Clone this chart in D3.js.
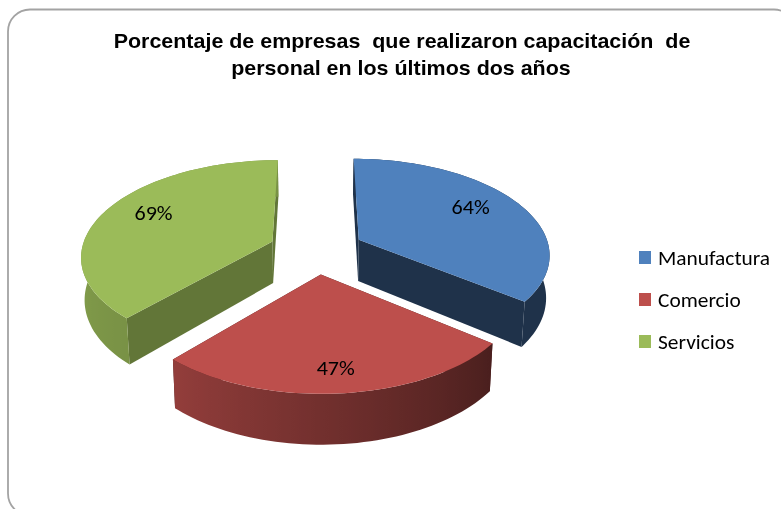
<!DOCTYPE html>
<html><head><meta charset="utf-8">
<script src="https://cdn.jsdelivr.net/npm/d3@7/dist/d3.min.js"></script>
<style>html,body{margin:0;padding:0;background:#fff;overflow:hidden}svg{display:block;filter:blur(0.35px)}</style>
</head><body><svg id="c" width="781" height="509"></svg>
<script>
const categories = ["Manufactura", "Comercio", "Servicios"];
const values = [64, 47, 69];
const valueLabels = ["64%", "47%", "69%"];
const topColors = ["#4f81bd", "#bd4f4c", "#9bbb59"];
const radialShade = [0.39, 0.39, 0.63];
const labelRadius = [0.72, 0.83, 0.72];
const labelDx = [-3, -2, 2];
const labelDy = [2, 5, 1];
const titleLines = ["Porcentaje de empresas  que realizaron capacitación  de", "personal en los últimos dos años"];

const svg = d3.select("#c");
svg.append("rect").attr("x",8).attr("y",9.5).attr("width",788).attr("height",506).attr("rx",22).attr("ry",22)
  .attr("fill","#fff").attr("stroke","#a3a3a3").attr("stroke-width",1.8);

const explode = 0.25, persp = 0.14, depth = 42, shrink = 0.985;
const sx = d3.scaleLinear().domain([-1,1]).range([316.5-191, 316.5+191]);
const sy = d3.scaleLinear().domain([-1,1]).range([250-95, 250+95]);
const cx = sx(0);
function project(X,Y,bottom){
  const w = 1 - persp*Y;
  const px = sx(X/w), py = sy(Y/w);
  if(!bottom) return [px,py];
  return [cx + (px-cx)*shrink, py + depth/w];
}
const pie = d3.pie().sort(null).value(d=>d);
const slices = pie(values);
const shade = d3.scaleLinear().domain([90,128,222,300].map(d=>d*Math.PI/180)).range([0.39,0.39,0.78,0.9]).clamp(true);
const line = d3.line();
function darken(c,f){const r=d3.rgb(c);return d3.rgb(r.r*f,r.g*f,r.b*f).formatHex();}
const defs = svg.append("defs");

slices.forEach((s,i)=>{
  const mid=(s.startAngle+s.endAngle)/2;
  const ox=explode*Math.sin(mid), oy=-explode*Math.cos(mid);
  const pt=(a,r)=>[ox+r*Math.sin(a), oy-r*Math.cos(a)];
  const g=svg.append("g");
  const arcAngles=d3.range(s.startAngle,s.endAngle,0.03).concat([s.endAngle]);
  const apexT=project(ox,oy,false), apexB=project(ox,oy,true);
  [s.startAngle,s.endAngle].forEach(a=>{
    const [X,Y]=pt(a,1);
    g.append("path").attr("d",line([apexT,project(X,Y,false),project(X,Y,true),apexB])+"Z")
      .attr("fill",darken(topColors[i],radialShade[i]));
  });
  const topArc=arcAngles.map(a=>{const [X,Y]=pt(a,1);return project(X,Y,false);});
  const botArc=arcAngles.map(a=>{const [X,Y]=pt(a,1);return project(X,Y,true);});
  const near=arcAngles.filter(a=>Math.cos(a)<=0.02);
  const xs=near.map(a=>{const [X,Y]=pt(a,1);return project(X,Y,false)[0];});
  const x0=d3.min(xs), x1=d3.max(xs);
  const grad=defs.append("linearGradient").attr("id","wall"+i).attr("gradientUnits","userSpaceOnUse")
    .attr("x1",x0).attr("x2",x1).attr("y1",0).attr("y2",0);
  near.map((a,k)=>({o:(xs[k]-x0)/(x1-x0),a})).sort((p,q)=>p.o-q.o).forEach(p=>{
    grad.append("stop").attr("offset",p.o).attr("stop-color",darken(topColors[i],shade(p.a)));
  });
  g.append("path").attr("d",line(topArc.concat(botArc.slice().reverse()))+"Z").attr("fill","url(#wall"+i+")");
  g.append("path").attr("d",line([apexT].concat(topArc))+"Z").attr("fill",topColors[i]);
  const [lx,ly]=pt(mid,labelRadius[i]);
  const [tx,ty]=project(lx,ly,false);
  g.append("text").attr("transform",`translate(${tx+labelDx[i]},${ty+labelDy[i]}) scale(1.05,1)`).attr("text-anchor","middle")
    .attr("font-family","Carlito, Lato, sans-serif").attr("font-size",21).attr("fill","#000").text(valueLabels[i]);
});

svg.selectAll("text.title").data(titleLines).join("text").attr("class","title")
  .attr("transform",(d,i)=>`translate(${402-i},${48+i*27}) scale(1.10,1)`).attr("text-anchor","middle")
  .style("white-space","pre")
  .attr("font-family","'Liberation Sans', Arial, sans-serif").attr("font-weight","bold").attr("font-size",19.5).attr("fill","#000").text(d=>d);

const legendY=d3.scalePoint().domain(categories).range([257.5,341.5]);
const leg=svg.selectAll("g.leg").data(categories).join("g").attr("class","leg");
leg.append("rect").attr("x",639).attr("y",d=>legendY(d)-6.5).attr("width",12).attr("height",13).attr("fill",(d,i)=>topColors[i]);
leg.append("text").attr("transform",d=>`translate(658,${legendY(d)+7}) scale(1.07,1)`)
  .attr("font-family","Carlito, Lato, sans-serif").attr("font-size",20).attr("fill","#000").text(d=>d);
</script></body></html>
